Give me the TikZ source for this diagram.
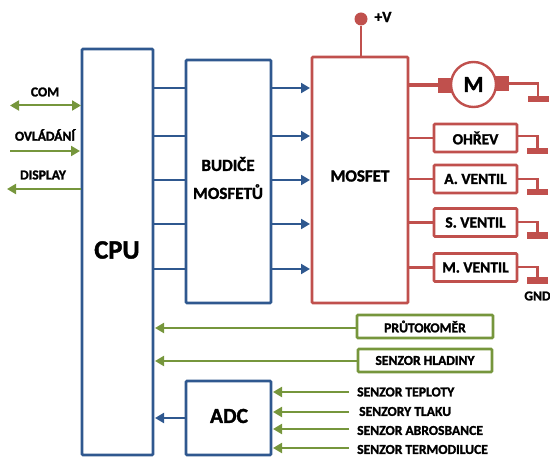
\documentclass[tikz,border=0pt]{standalone}
\usepackage{fontspec}
\setmainfont{Carlito}[BoldFeatures={FakeBold=1.6}]
\usepackage{tikz}
\usetikzlibrary{positioning}
\usetikzlibrary{arrows.meta}
\definecolor{blueline}{RGB}{47,88,143}
\definecolor{redline}{RGB}{192,80,77}
\definecolor{greenline}{RGB}{118,150,60}
\tikzset{
    bluebox/.style={draw=blueline,line width=2.7pt,anchor=north west,inner sep=0pt,outer sep=0pt,rounded corners=1pt},
    redbox/.style={draw=redline,line width=2.7pt,anchor=north west,inner sep=0pt,outer sep=0pt,rounded corners=1pt},
    greenbox/.style={draw=greenline,line width=2.7pt,anchor=center,inner sep=0pt,outer sep=0pt,rounded corners=1pt},
    lbl/.style={font=\bfseries\fontsize{13.6}{15}\selectfont,inner sep=0pt},
    loadlbl/.style={font=\bfseries\fontsize{15.5}{18}\selectfont,inner sep=0pt},
    biglbl/.style={font=\bfseries\fontsize{17}{28}\selectfont,inner sep=0pt,align=center},
    bar/.style={fill=redline,minimum width=21pt,minimum height=6.5pt,inner sep=0pt,outer sep=0pt},
    brush/.style={fill=redline,minimum width=14pt,minimum height=15pt,inner sep=0pt,outer sep=0pt},
    blueconn/.style={draw=blueline,line width=2pt},
    bluearrow/.style={blueconn,-{Triangle[length=9pt,width=10pt]}},
    greenarrow/.style={draw=greenline,line width=2pt,-{Triangle[length=9pt,width=10pt]}},
    redconn/.style={draw=redline,line width=2.8pt},
}
\begin{document}
\begin{tikzpicture}[x=1pt,y=-1pt]
    \useasboundingbox (0,0) rectangle (550,457);

    % blue blocks
    \node[bluebox,minimum width=71pt,minimum height=406pt] (cpu) at (82,49) {};
    \node[font=\bfseries\fontsize{26.5}{30}\selectfont,inner sep=0pt] (cpulabel) at (117,250) {CPU};
    \node[bluebox,minimum width=85pt,minimum height=243pt] (budic) at (186,60) {};
    \node[biglbl] (budiclabel) at (228,178) {BUDIČE\\MOSFETŮ};
    \node[bluebox,minimum width=85pt,minimum height=74pt] (adc) at (186,381) {};
    \node[font=\bfseries\fontsize{21.5}{24}\selectfont,inner sep=0pt] (adclabel) at (229,416) {ADC};

    % red block
    \node[redbox,minimum width=96pt,minimum height=246pt] (mosfet) at (312,57) {};
    \node[biglbl] (mosfetlabel) at (360,176) {MOSFET};

    % lines between the blocks
    \foreach \y in {88,136,180,224,269} {
        \coordinate (c\y) at (153,\y);
        \coordinate (b\y) at (186,\y);
        \coordinate (d\y) at (271,\y);
        \coordinate (m\y) at (310,\y);
        \draw[blueconn] (c\y) -- (b\y);
        \draw[bluearrow] (d\y) -- (m\y);
    }

    % supply
    \coordinate (mtop) at (361,57);
    \node[circle,fill=redline,minimum size=13pt,inner sep=0pt] (vcc) at (361,19) {};
    \node[loadlbl] (vcclabel) at (383,17) {+V};
    \draw[redconn] (vcc) -- (mtop);

    % motor
    \node[circle,draw=redline,line width=2.4pt,minimum size=45pt,inner sep=0pt,outer sep=0pt,
        font=\bfseries\fontsize{23}{26}\selectfont] (motor) at (473.5,84.5) {M};
    \node[brush] (brushl) at (445,85.5) {};
    \node[brush] (brushr) at (501.5,83.5) {};
    \coordinate (mout) at (408,85.5);
    \draw[draw=redline,line width=4pt] (mout) -- (brushl);
    \coordinate (gm) at (538,99);
    \draw[redconn] (brushr) -- (gm |- brushr) -- (gm);
    \node[bar] (gndm) at (gm) {};

    % loads
    \foreach \name/\txt/\y/\yo/\g in {oh/OHŘEV/138/136/151,av/A. VENTIL/179/179/192,sv/S. VENTIL/222.5/222/235.5,mv/M. VENTIL/267.5/267/280.5} {
        \node[redbox,anchor=center,minimum width=83pt,minimum height=28pt] (\name) at (475.5,\y) {};
        \node[loadlbl] (\name label) at (475.5,\y) {\txt};
        \coordinate (\name in) at (408,\y);
        \coordinate (\name out) at (517,\yo);
        \coordinate (\name g) at (537.5,\g);
        \draw[redconn] (\name in) -- (\name);
        \draw[redconn] (\name out) -- (\name g |- \name out) -- (\name g);
        \node[bar] (\name gnd) at (\name g) {};
    }
    \node[lbl] (gnd) at (537.5,296) {GND};

    % left side
    \coordinate (comw) at (10,105.5);
    \coordinate (come) at (81,105.5);
    \coordinate (ovlw) at (10,151);
    \coordinate (ovle) at (80,151);
    \coordinate (disw) at (7,189);
    \coordinate (dise) at (81,189);
    \draw[greenarrow,{Triangle[length=9pt,width=10pt]}-{Triangle[length=9pt,width=10pt]}] (comw) -- (come);
    \draw[greenarrow] (ovlw) -- (ovle);
    \draw[greenarrow] (dise) -- (disw);
    \node[lbl] (com) at (45,92) {COM};
    \node[lbl] (ovl) at (45,135) {OVLÁDÁNÍ};
    \node[lbl] (dis) at (43,175) {DISPLAY};

    % sensors
    \node[greenbox,minimum width=136pt,minimum height=23pt,lbl] (prut) at (425,326.5) {PRŮTOKOMĚR};
    \node[greenbox,minimum width=134pt,minimum height=23pt,lbl] (hlad) at (425,360.5) {SENZOR HLADINY};
    \coordinate (cprut) at (155,328);
    \coordinate (chlad) at (155,361);
    \coordinate (cadc) at (155,418);
    \draw[greenarrow] (prut.west |- cprut) -- (cprut);
    \draw[greenarrow] (hlad.west |- chlad) -- (chlad);
    \draw[bluearrow] (adc.west |- cadc) -- (cadc);

    \foreach \name/\txt/\x/\y/\ya in {st/SENZOR TEPLOTY/357/392/392,sl/SENZORY TLAKU/359/411.5/412,sa/SENZOR ABROSBANCE/357/430.5/429,sm/SENZOR TERMODILUCE/357/449.5/448} {
        \node[lbl,anchor=west] (\name) at (\x,\y) {\txt};
        \coordinate (\name b) at (349,\ya);
        \coordinate (\name a) at (273,\ya);
        \draw[greenarrow] (\name b) -- (\name a);
    }
\end{tikzpicture}
\end{document}
